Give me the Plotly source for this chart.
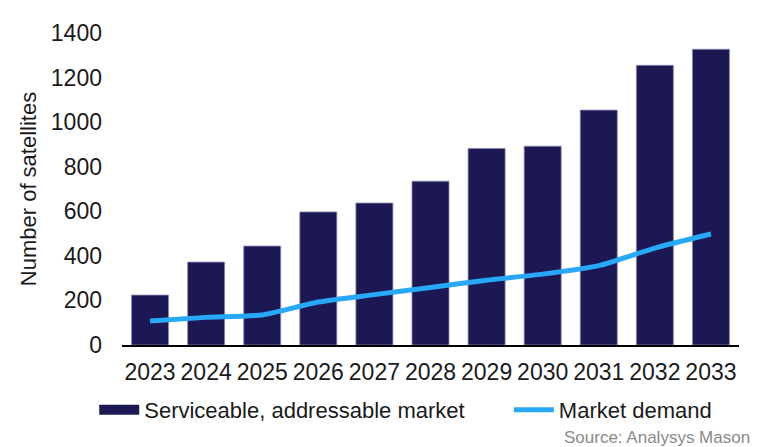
import plotly.graph_objects as go

years = ["2023", "2024", "2025", "2026", "2027", "2028", "2029", "2030", "2031", "2032", "2033"]
sam_values = [224, 372, 444, 597, 637, 735, 882, 892, 1054, 1255, 1327]
demand_values = [108, 124, 135, 193, 226, 258, 291, 318, 356, 435, 498]
y_ticks = [0, 200, 400, 600, 800, 1000, 1200, 1400]

font_family = "Liberation Sans, Arial, sans-serif"
NAVY = "#1B1854"
BLUE = "#27A8F8"

fig = go.Figure()
fig.add_trace(go.Bar(
    x=years, y=sam_values, name="Serviceable, addressable market",
    marker=dict(color=NAVY, line=dict(color="#8C8AB0", width=0.8)),
    width=0.66, showlegend=False,
))
# legend-only entry so the key is drawn as a wide rectangle like the original
fig.add_trace(go.Scatter(
    x=[None], y=[None], name="Serviceable, addressable market", mode="lines",
    line=dict(color=NAVY, width=11), legend="legend", hoverinfo="skip",
))
fig.add_trace(go.Scatter(
    x=years, y=demand_values, name="Market demand", mode="lines",
    line=dict(color=BLUE, width=5, shape="spline", smoothing=0.6),
    legend="legend2",
))

legend_common = dict(
    orientation="h", y=-0.208, yanchor="middle", xanchor="left",
    font=dict(size=22, family=font_family, color="#1a1a1a"),
    itemwidth=40, bgcolor="rgba(0,0,0,0)",
)

fig.update_layout(
    width=760, height=439,
    margin=dict(l=114, r=29, t=25, b=102),
    plot_bgcolor="white", paper_bgcolor="white",
    font=dict(family=font_family, color="#1a1a1a", size=23),
    showlegend=True,
    legend=dict(x=-0.045, **legend_common),
    legend2=dict(x=0.627, **legend_common),
)
fig.update_xaxes(
    type="category", showline=True, linecolor="#000000", linewidth=2,
    showgrid=False, ticks="", tickfont=dict(size=23), ticklabelstandoff=5,
)
fig.update_yaxes(
    range=[0, 1400], tickvals=y_ticks, showgrid=False, zeroline=False,
    showline=False, ticks="", tickfont=dict(size=23), ticklabelstandoff=19,
    title=dict(text="Number of satellites", font=dict(size=22), standoff=8),
)
fig.add_annotation(
    text="Source: Analysys Mason", xref="paper", yref="paper",
    x=1.021, y=-0.295, xanchor="right", yanchor="middle", showarrow=False,
    font=dict(size=17, color="#8a8a8a", family="Liberation Sans Narrow, Liberation Sans, Arial"),
)

fig.write_html("out.html")
